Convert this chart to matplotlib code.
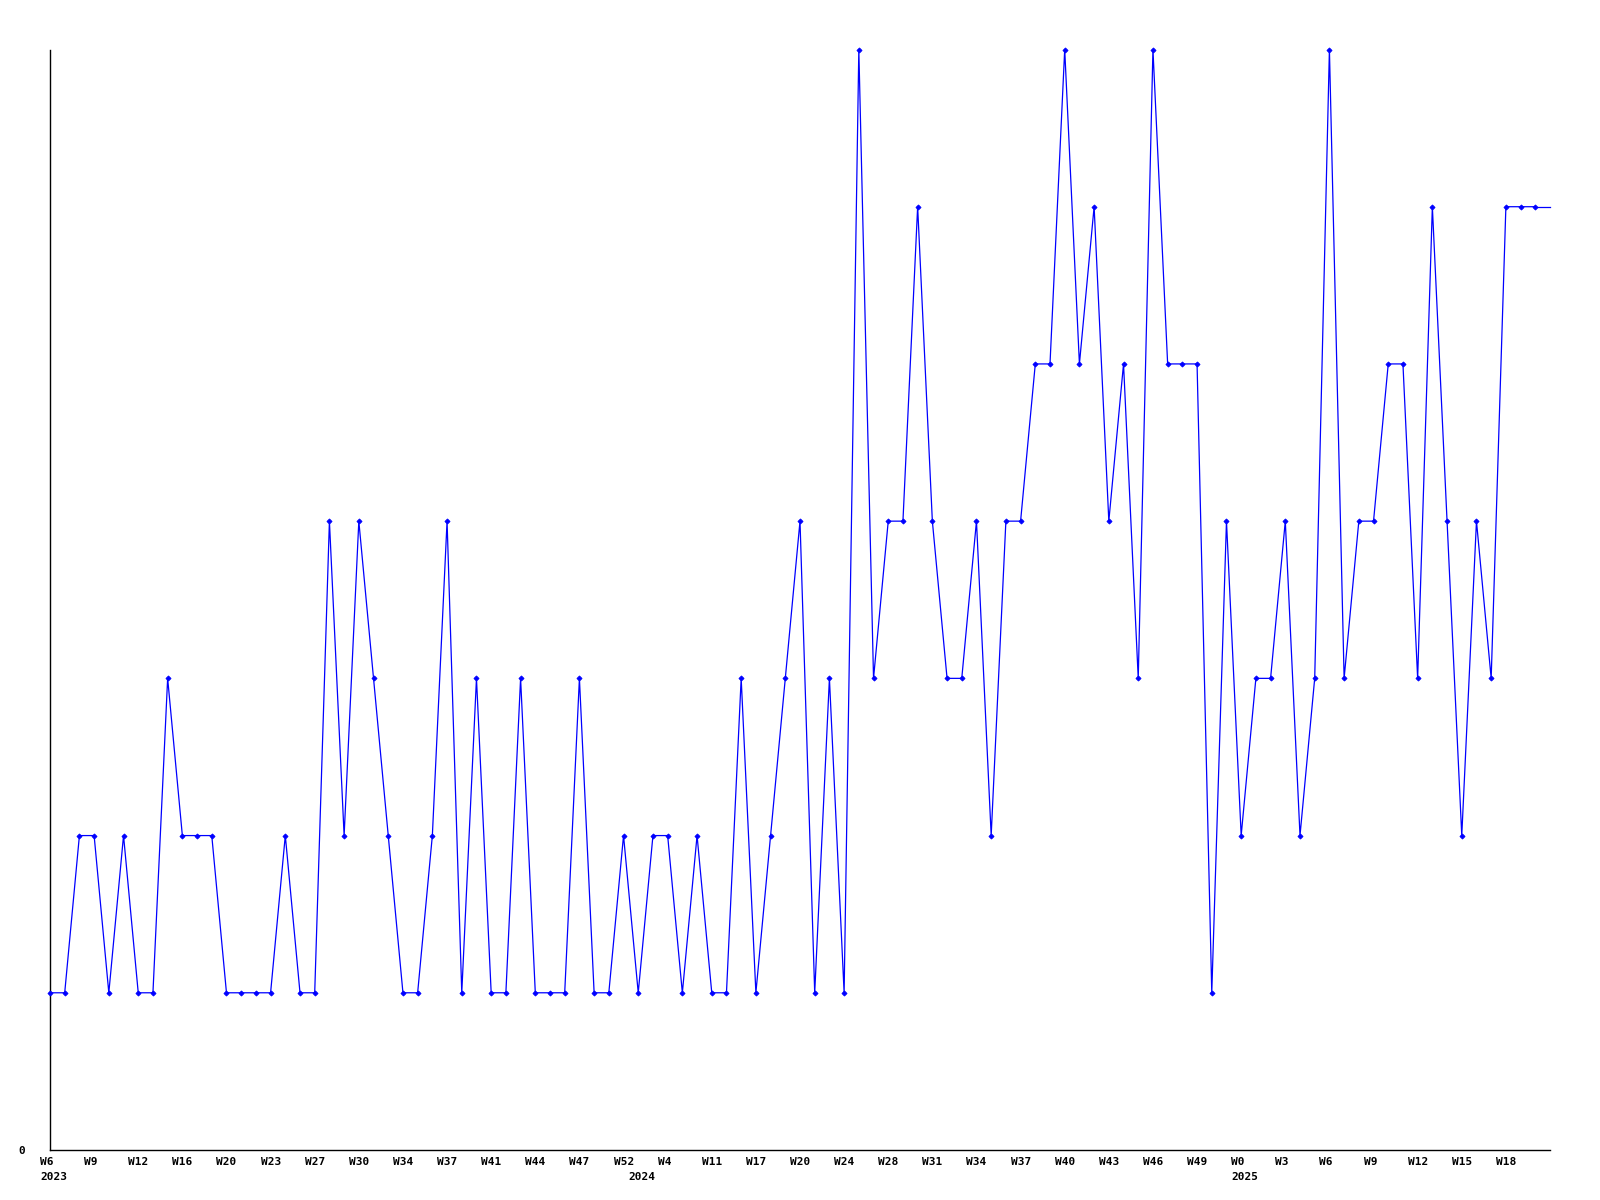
import matplotlib
matplotlib.use("Agg")
import matplotlib.pyplot as plt
import matplotlib.transforms as mtransforms

# weekly counts, one point per sample
values = [1, 1, 2, 2, 1, 2, 1, 1, 3, 2,
          2, 2, 1, 1, 1, 1, 2, 1, 1, 4,
          2, 4, 3, 2, 1, 1, 2, 4, 1, 3,
          1, 1, 3, 1, 1, 1, 3, 1, 1, 2,
          1, 2, 2, 1, 2, 1, 1, 3, 1, 2,
          3, 4, 1, 3, 1, 7, 3, 4, 4, 6,
          4, 3, 3, 4, 2, 4, 4, 5, 5, 7,
          5, 6, 4, 5, 3, 7, 5, 5, 5, 1,
          4, 2, 3, 3, 4, 2, 3, 7, 3, 4,
          4, 5, 5, 3, 6, 4, 2, 4, 3, 6,
          6, 6]

week_labels = ['W6', 'W9', 'W12', 'W16', 'W20', 'W23', 'W27', 'W30', 'W34', 'W37',
               'W41', 'W44', 'W47', 'W52', 'W4', 'W11', 'W17', 'W20', 'W24', 'W28',
               'W31', 'W34', 'W37', 'W40', 'W43', 'W46', 'W49', 'W0', 'W3', 'W6',
               'W9', 'W12', 'W15', 'W18']
label_step = 3

years = ['2023', '2024', '2025']
year_start = [0, 40, 81]

y_max = 7

font = dict(family='DejaVu Sans Mono', fontweight='bold', fontsize=8)

fig = plt.figure(figsize=(16, 12), dpi=100, facecolor='white')
ax = fig.add_axes([50 / 1600, 50 / 1200, 1500 / 1600, 1100.5 / 1200])

x = list(range(len(values)))
x_end = len(values)

ax.plot(x, values, color='#0000ff', linewidth=0.9, marker='D', markersize=2.6,
        markeredgewidth=0.6, markerfacecolor='#0000ff', markeredgecolor='#0000ff',
        clip_on=False, zorder=3)
# last value carried to the right edge
ax.plot([x[-1], x_end], [values[-1], values[-1]], color='#0000ff', linewidth=0.9,
        clip_on=False, zorder=3)

ax.set_xlim(0, x_end)
ax.set_ylim(0, y_max)

for side in ['top', 'right']:
    ax.spines[side].set_visible(False)
for side in ['left', 'bottom']:
    ax.spines[side].set_color('black')
    ax.spines[side].set_linewidth(1.0)

ax.set_yticks([0])
ax.set_yticklabels(['0'], **font)
ax.tick_params(axis='y', length=0, pad=18)

ticks = [i * label_step for i in range(len(week_labels))]
ax.set_xticks(ticks)
ax.set_xticklabels(week_labels, **font)
ax.tick_params(axis='x', length=0, pad=5)
shift = mtransforms.ScaledTranslation(-10 / 100, 0, fig.dpi_scale_trans)
for lab in ax.get_xticklabels():
    lab.set_horizontalalignment('left')
    lab.set_transform(lab.get_transform() + shift)

year_trans = mtransforms.blended_transform_factory(ax.transData, ax.transAxes) + \
    mtransforms.ScaledTranslation(-10 / 100, -22 / 100, fig.dpi_scale_trans)
for yr, idx in zip(years, year_start):
    ax.text(idx, 0, yr, transform=year_trans, ha='left', va='top', **font)

fig.savefig('out.png', dpi=100, facecolor='white')
plt.close(fig)
